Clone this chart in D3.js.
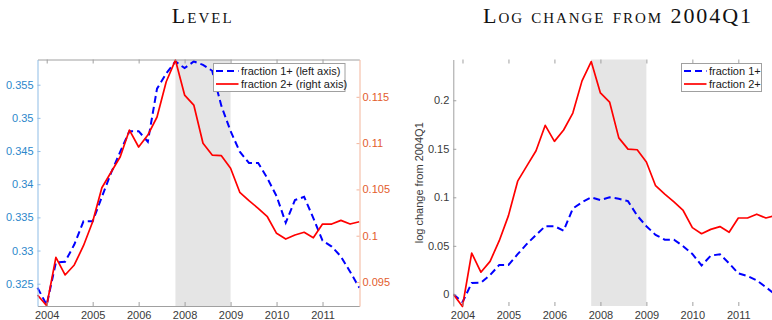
<!DOCTYPE html>
<html>
<head>
<meta charset="utf-8">
<script src="https://d3js.org/d3.v7.min.js"></script>
<style>
  body { margin: 0; background: #fff; }
  svg { display: block; }
  text { font-family: "Liberation Sans", Arial, sans-serif; }
</style>
</head>
<body>
<div id="chart"></div>
<script>
// quarterly data, 2004Q1 .. 2012Q4
const quarters = [
  "2004Q1","2004Q2","2004Q3","2004Q4","2005Q1","2005Q2","2005Q3","2005Q4",
  "2006Q1","2006Q2","2006Q3","2006Q4","2007Q1","2007Q2","2007Q3","2007Q4",
  "2008Q1","2008Q2","2008Q3","2008Q4","2009Q1","2009Q2","2009Q3","2009Q4",
  "2010Q1","2010Q2","2010Q3","2010Q4","2011Q1","2011Q2","2011Q3","2011Q4",
  "2012Q1","2012Q2","2012Q3","2012Q4"
];
const fraction1 = [
  0.3244, 0.3218, 0.3282, 0.3283, 0.3309, 0.3344, 0.3344, 0.3381, 0.3417,
  0.3449, 0.3480, 0.3480, 0.3464, 0.3544, 0.3567, 0.3585, 0.3575, 0.3585,
  0.3580, 0.3571, 0.3518, 0.3480, 0.3449, 0.3432, 0.3432, 0.3409, 0.3382,
  0.3342, 0.3376, 0.3381, 0.3349, 0.3315, 0.3306, 0.3291, 0.3268, 0.3244
];
const fraction2 = [
  0.09360, 0.09244, 0.09767, 0.09576, 0.09684, 0.09892, 0.10151, 0.10518, 0.10685,
  0.10853, 0.11141, 0.10958, 0.11087, 0.11282, 0.11663, 0.11897, 0.11519, 0.11411,
  0.10998, 0.10871, 0.10864, 0.10728, 0.10469, 0.10378, 0.10296, 0.10205, 0.10026,
  0.09964, 0.10008, 0.10037, 0.09978, 0.10126, 0.10126, 0.10166, 0.10126, 0.10151
];
const recession = ["2007Q4", "2009Q2"];

// date ticks as placed by the original plot (labels show the year only)
const xTickQuarters = ["2004Q2", "2005Q3", "2006Q4", "2008Q1", "2009Q2", "2010Q3", "2011Q4"];
const xTickLabels = ["2004", "2005", "2006", "2008", "2009", "2010", "2011"];
const leftTicks = [0.325, 0.33, 0.335, 0.34, 0.345, 0.35, 0.355];
const rightTicks = [0.095, 0.1, 0.105, 0.11, 0.115];
const logTicks = [0, 0.05, 0.1, 0.15, 0.2];

const qnum = q => +q.slice(0, 4) + (+q[5] - 1) / 4;
const t = quarters.map(qnum);
const logChange = s => s.map(v => Math.log(v / s[0]));

const W = 772, H = 320;
const yTop = 59.5, yBot = 306;
const svg = d3.select("#chart").append("svg").attr("width", W).attr("height", H);

const blueAxis = "#8fbde6", blueText = "#2c87cb";
const redAxis = "#f3b59c", redText = "#e35d2c";
const grey = "#a0a0a0", darkText = "#3a3a3a";

svg.append("clipPath").attr("id", "clipR")
  .append("rect").attr("x", 453).attr("y", yTop - 2).attr("width", 330).attr("height", yBot - yTop + 4);

function panel(x0, x1, opts) {
  const x = d3.scaleLinear().domain([t[0], t[t.length - 1]]).range([x0, x1]);
  const g = svg.append("g");
  if (opts.clip) g.attr("clip-path", "url(#clipR)");

  // recession shading
  g.append("rect")
    .attr("x", x(qnum(recession[0])))
    .attr("width", x(qnum(recession[1])) - x(qnum(recession[0])))
    .attr("y", yTop).attr("height", yBot - yTop)
    .attr("fill", "#e5e5e5");

  // top and bottom date axes
  const xt = xTickQuarters.map(qnum);
  const bx = svg.append("g").attr("transform", `translate(0,${yBot})`)
    .call(d3.axisBottom(x).tickValues(xt).tickFormat((d, i) => xTickLabels[i])
      .tickSizeInner(-4).tickSizeOuter(0).tickPadding(5));
  const tx = svg.append("g").attr("transform", `translate(0,${yTop})`)
    .call(d3.axisTop(x).tickValues(xt).tickFormat("").tickSizeInner(-4).tickSizeOuter(0));
  if (opts.clip) { bx.select(".domain").attr("clip-path", "url(#clipR)"); tx.select(".domain").attr("clip-path", "url(#clipR)"); }
  [bx, tx].forEach(a => {
    a.select(".domain").attr("stroke", grey);
    a.selectAll(".tick line").attr("stroke", grey);
  });
  bx.selectAll("text").attr("fill", darkText).style("font-size", "11px");
  return { x, g };
}

function styleY(a, lineCol, textCol) {
  a.select(".domain").attr("stroke", lineCol);
  a.selectAll(".tick line").attr("stroke", lineCol);
  a.selectAll("text").attr("fill", textCol).style("font-size", "11px");
}

const line = (x, y, s) => d3.line().x((d, i) => x(t[i])).y(d => y(d))(s);

function legend(x0, y0, w, labels) {
  const lg = svg.append("g");
  lg.append("rect").attr("x", x0).attr("y", y0).attr("width", w).attr("height", 28)
    .attr("fill", "#fff").attr("stroke", grey);
  const rows = [{ c: "#0000ff", dash: "7,4" }, { c: "#ff0000", dash: null }];
  rows.forEach((r, i) => {
    const yy = y0 + 7.5 + i * 13;
    lg.append("line").attr("x1", x0 + 2.5).attr("x2", x0 + 25).attr("y1", yy).attr("y2", yy)
      .attr("stroke", r.c).attr("stroke-width", i ? 1.7 : 2).attr("stroke-dasharray", r.dash);
    lg.append("text").attr("x", x0 + 27.5).attr("y", yy + 3.9).attr("fill", "#1a1a1a")
      .style("font-size", "11px").text(labels[i]);
  });
}

// ---- left panel: levels ----
{
  const { x, g } = panel(37.5, 359.3, {});
  const yL = d3.scaleLinear().domain([0.32164, 0.3588]).range([yBot, yTop]);
  const yR = d3.scaleLinear().domain([0.09241, 0.11903]).range([yBot, yTop]);

  styleY(svg.append("g").attr("transform", "translate(37.5,0)")
    .call(d3.axisLeft(yL).tickValues(leftTicks).tickFormat(d => String(d))
      .tickSizeInner(-3).tickSizeOuter(0).tickPadding(4)), blueAxis, blueText);
  styleY(svg.append("g").attr("transform", "translate(359.5,0)")
    .call(d3.axisRight(yR).tickValues(rightTicks).tickFormat(d => String(d))
      .tickSizeInner(-3).tickSizeOuter(0).tickPadding(3)), redAxis, redText);

  g.append("path").attr("d", line(x, yL, fraction1)).attr("fill", "none")
    .attr("stroke", "#0000ff").attr("stroke-width", 2).attr("stroke-dasharray", "7,4");
  g.append("path").attr("d", line(x, yR, fraction2)).attr("fill", "none")
    .attr("stroke", "#ff0000").attr("stroke-width", 1.7).attr("stroke-linejoin", "round");

  legend(213.5, 63.5, 131.5, ["fraction 1+ (left axis)", "fraction 2+ (right axis)"]);
}

// ---- right panel: log change from 2004Q1 ----
{
  const { x, g } = panel(453.3, 775.1, { clip: true });
  const y = d3.scaleLinear().domain([-0.012, 0.242]).range([yBot, yTop]);

  styleY(svg.append("g").attr("transform", "translate(453.3,0)")
    .call(d3.axisLeft(y).tickValues(logTicks).tickFormat(d => String(d))
      .tickSizeInner(-3).tickSizeOuter(0).tickPadding(4)), grey, darkText);

  g.append("path").attr("d", line(x, y, logChange(fraction1))).attr("fill", "none")
    .attr("stroke", "#0000ff").attr("stroke-width", 2).attr("stroke-dasharray", "7,4");
  g.append("path").attr("d", line(x, y, logChange(fraction2))).attr("fill", "none")
    .attr("stroke", "#ff0000").attr("stroke-width", 1.7).attr("stroke-linejoin", "round");

  svg.append("text").attr("transform", `translate(422.5,${(yTop + yBot) / 2}) rotate(-90)`)
    .attr("text-anchor", "middle").attr("fill", darkText).style("font-size", "11px")
    .text("log change from 2004Q1");

  legend(681.5, 63.5, 80, ["fraction 1+", "fraction 2+"]);
}

// titles in small caps
[["Level", 201.7, 60], ["Log change from 2004Q1", 617, 268]].forEach(([s, cx, len]) => {
  svg.append("text").attr("x", cx).attr("y", 22.5).attr("text-anchor", "middle")
    .attr("textLength", len).attr("lengthAdjust", "spacing")
    .style("font-family", "'Liberation Serif', 'DejaVu Serif', serif")
    .style("font-size", "22px").style("font-variant", "small-caps")
    .attr("fill", "#111").text(s);
});
</script>
</body>
</html>
